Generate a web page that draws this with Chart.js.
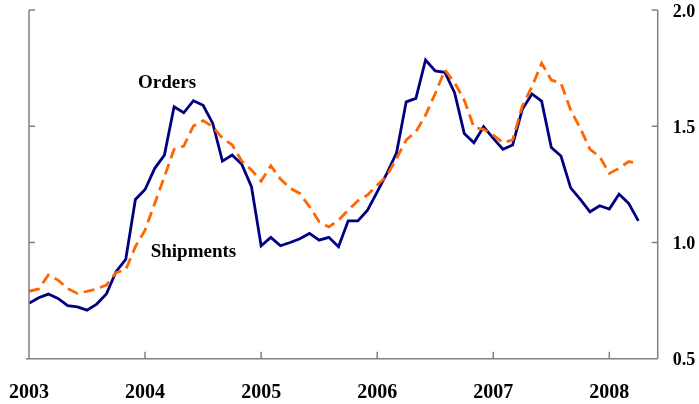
<!DOCTYPE html>
<html><head><meta charset="utf-8">
<script src="https://cdn.jsdelivr.net/npm/chart.js@4/dist/chart.umd.min.js"></script>
<style>html,body{margin:0;padding:0;background:#fff;}#wrap{width:699px;height:404px;}</style>
</head><body><div id="wrap"><canvas id="c" width="699" height="404"></canvas></div>
<script>
const yearLabels = ["2003","2004","2005","2006","2007","2008"];
const orders = [0.738,0.762,0.778,0.759,0.728,0.723,0.709,0.735,0.778,0.874,0.927,1.185,
1.228,1.319,1.376,1.584,1.558,1.610,1.590,1.512,1.350,1.376,1.336,1.240,
0.986,1.022,0.986,1.000,1.016,1.039,1.010,1.022,0.982,1.093,1.093,1.139,
1.218,1.297,1.386,1.605,1.620,1.785,1.738,1.732,1.644,1.469,1.429,1.498,
1.448,1.401,1.419,1.573,1.639,1.608,1.408,1.372,1.235,1.185,1.132,1.158,
1.144,1.208,1.168,1.093];
const shipments = [0.790,0.800,0.860,0.838,0.802,0.781,0.790,0.800,0.817,0.870,0.883,0.982,
1.053,1.168,1.283,1.401,1.415,1.501,1.524,1.498,1.448,1.420,1.350,1.312,
1.264,1.330,1.273,1.233,1.211,1.154,1.089,1.067,1.096,1.139,1.179,1.204,
1.247,1.286,1.362,1.441,1.476,1.548,1.641,1.742,1.687,1.613,1.495,1.487,
1.462,1.429,1.441,1.587,1.670,1.771,1.699,1.685,1.570,1.491,1.401,1.369,
1.297,1.319,1.348,1.340];
const yTicks = [0.5,1.0,1.5,2.0];
const seriesNames = ["Orders","Shipments"];

const toXY = arr => arr.map((v,i)=>({x:i,y:v}));
const AX = '#808080';
const FAM = '"Liberation Serif","Times New Roman",serif';

const frame = {
  id:'frame',
  afterDraw(chart){
    const ctx = chart.ctx, x = chart.scales.x, y = chart.scales.y, a = chart.chartArea;
    ctx.save();
    ctx.strokeStyle = AX; ctx.lineWidth = 1.5;
    ctx.beginPath();
    ctx.moveTo(a.left, y.getPixelForValue(2.0)); ctx.lineTo(a.left, a.bottom);
    ctx.moveTo(a.left-3, a.bottom); ctx.lineTo(a.right, a.bottom);
    ctx.moveTo(a.right, y.getPixelForValue(2.0)); ctx.lineTo(a.right, a.bottom);
    yTicks.forEach(v=>{const p=y.getPixelForValue(v);
      ctx.moveTo(a.right-6,p); ctx.lineTo(a.right,p);
      ctx.moveTo(a.left,p); ctx.lineTo(a.left+6,p);});
    for(let m=12;m<=60;m+=12){const p=x.getPixelForValue(m);
      ctx.moveTo(p,a.bottom); ctx.lineTo(p,a.bottom-7);}
    ctx.stroke();
    ctx.fillStyle='#000';
    ctx.font = 'bold 19px ' + FAM;
    ctx.textAlign='center'; ctx.textBaseline='middle';
    ctx.fillText(seriesNames[0], x.getPixelForValue(14.27), y.getPixelForValue(1.686));
    ctx.fillText(seriesNames[1], x.getPixelForValue(17.0), y.getPixelForValue(0.957));
    ctx.restore();
  }
};

new Chart(document.getElementById('c'), {
  type:'line',
  data:{datasets:[
    {label:seriesNames[1], data:toXY(shipments), borderColor:'#FF6600', borderWidth:2.8, borderDash:[11,6], pointRadius:0, tension:0, fill:false},
    {label:seriesNames[0], data:toXY(orders), borderColor:'#000080', borderWidth:2.8, pointRadius:0, tension:0, fill:false}
  ]},
  options:{
    responsive:false, animation:false,
    layout:{padding:{left:29,top:10,right:0,bottom:0}},
    plugins:{legend:{display:false},tooltip:{enabled:false}},
    scales:{
      x:{type:'linear', min:0, max:65,
        afterFit(s){s.height=45.3; s.paddingLeft=0; s.paddingRight=0;},
        afterBuildTicks(s){s.ticks=yearLabels.map((l,i)=>({value:i*12}));},
        ticks:{callback:(v)=>yearLabels[v/12], color:'#000', font:{family:FAM,weight:'bold',size:20}, padding:22, maxRotation:0, autoSkip:false},
        grid:{display:false, drawTicks:false}, border:{display:false}},
      y:{position:'right', min:0.5, max:2.0,
        afterFit(s){s.width=41.3; s.paddingTop=0; s.paddingBottom=0;},
        afterBuildTicks(s){s.ticks=yTicks.map(v=>({value:v}));},
        ticks:{callback:v=>v.toFixed(1), color:'#000', font:{family:FAM,weight:'bold',size:18}, padding:15, labelOffset:2},
        grid:{display:false, drawTicks:false}, border:{display:false}}
    }
  },
  plugins:[frame]
});
</script></body></html>
